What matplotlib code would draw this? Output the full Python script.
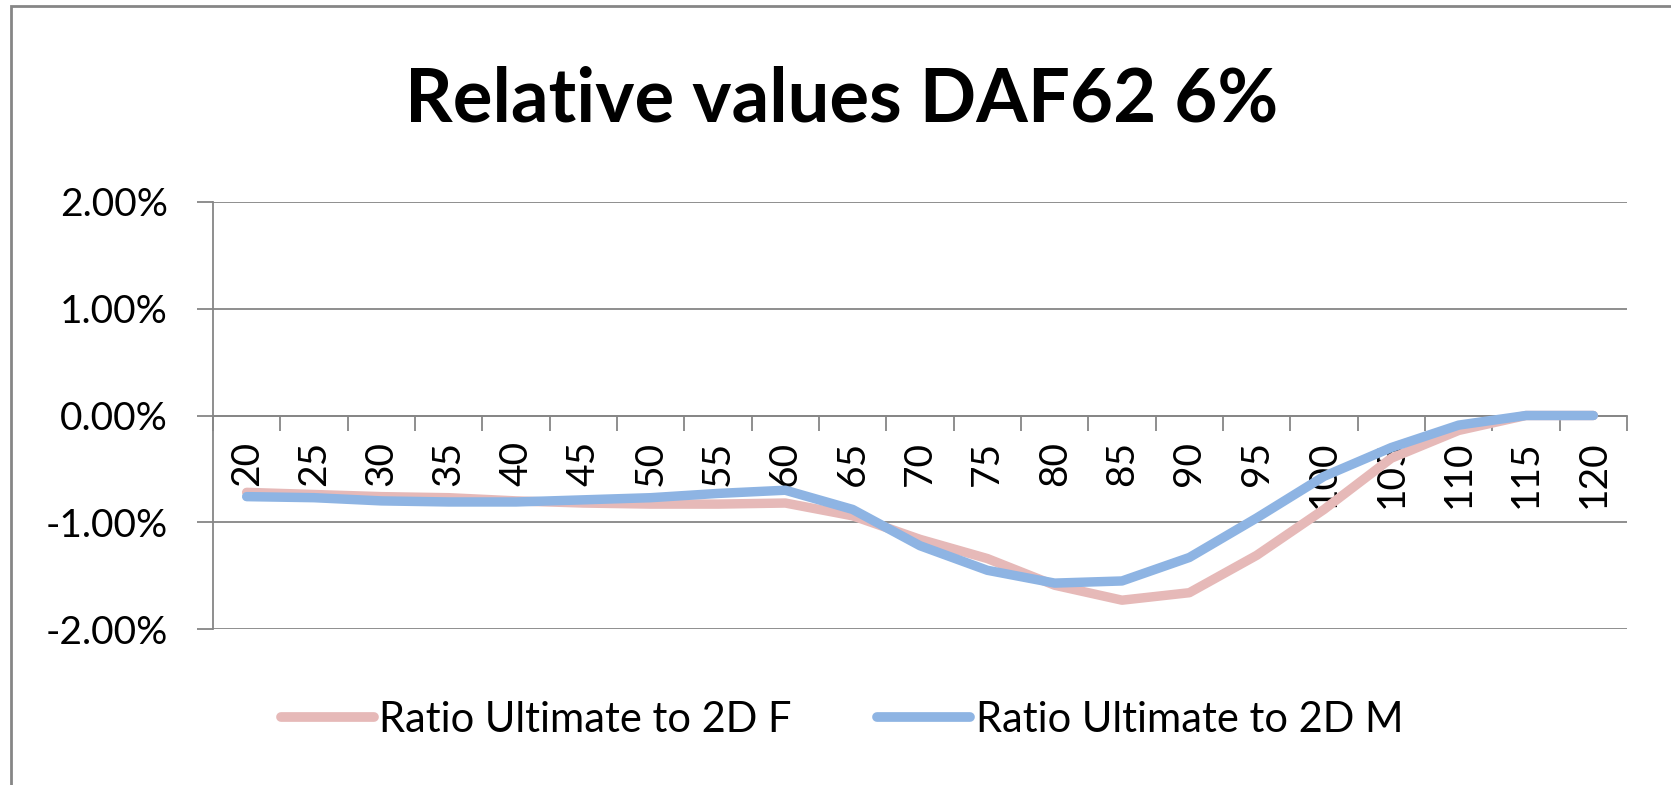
import matplotlib
matplotlib.use("Agg")
import matplotlib.pyplot as plt
from matplotlib.patches import Rectangle
from matplotlib.ticker import FixedLocator, FuncFormatter

categories = [str(v) for v in range(20, 121, 5)]
ratio_f = [-0.72, -0.74, -0.76, -0.77, -0.80, -0.82, -0.83, -0.83, -0.82, -0.94,
           -1.16, -1.34, -1.59, -1.73, -1.66, -1.31, -0.88, -0.40, -0.14, 0.0, 0.0]
ratio_m = [-0.76, -0.77, -0.80, -0.81, -0.81, -0.79, -0.77, -0.73, -0.70, -0.88,
           -1.22, -1.45, -1.57, -1.55, -1.33, -0.96, -0.57, -0.30, -0.09, 0.0, 0.0]
series_names = ["Ratio Ultimate to 2D F", "Ratio Ultimate to 2D M"]
y_ticks = [-2, -1, 0, 1, 2]

FONT = ["Lato", "DejaVu Sans"]
plt.rcParams['font.family'] = FONT
LABEL_SIZE = 28
GRID = "#868686"

W, H = 1671, 785
fig = plt.figure(figsize=(W / 100, H / 100), dpi=100)
fig.patches.append(Rectangle((11 / W, -0.1), 1.2, 1 - 6 / H + 0.1, transform=fig.transFigure,
                             fill=False, edgecolor=GRID, linewidth=2))

ax = fig.add_axes([213 / W, 1 - 629 / H, (1627 - 213) / W, (629 - 202) / H])
x = list(range(len(categories)))
ax.plot(x, ratio_f, color="#E6B9B8", linewidth=6.8, solid_capstyle="round",
        solid_joinstyle="round", label=series_names[0], zorder=3)
ax.plot(x, ratio_m, color="#8EB4E3", linewidth=6.8, solid_capstyle="round",
        solid_joinstyle="round", label=series_names[1], zorder=4)

ax.set_xlim(-0.5, len(categories) - 0.5)
ax.set_ylim(-2, 2)
ax.yaxis.set_major_locator(FixedLocator(y_ticks))
ax.yaxis.set_major_formatter(FuncFormatter(lambda v, p: f"{v:.2f}%".replace("\u2212", "-")))
ax.grid(axis="y", color=GRID, linewidth=1.3)
ax.set_axisbelow(True)
for s in ["top", "right"]:
    ax.spines[s].set_visible(False)
ax.spines["left"].set_color(GRID)
ax.spines["left"].set_linewidth(1.3)
ax.spines["bottom"].set_position(("data", 0))
ax.spines["bottom"].set_color(GRID)
ax.spines["bottom"].set_linewidth(1.3)
ax.tick_params(axis="y", length=11.5, width=1.3, color=GRID, pad=21, labelsize=LABEL_SIZE)
ax.set_xticks(x)
ax.set_xticklabels(categories, rotation=90, fontsize=LABEL_SIZE)
ax.tick_params(axis="x", which="major", length=0, pad=18)
ax.set_xticks([i - 0.5 for i in range(len(categories) + 1)], minor=True)
ax.tick_params(axis="x", which="minor", length=10.5, width=1.3, color=GRID, direction="out")

fig.text(842 / W, 1 - 122 / H, "Relative values DAF62 6%", ha="center", va="baseline",
         fontsize=53.5, fontweight="bold")

leg = fig.legend(loc="center", bbox_to_anchor=(842 / W, 1 - 720 / H), ncol=2, frameon=False,
                 fontsize=30, handlelength=2.23, handletextpad=0.13, columnspacing=2.05)
for h in leg.legend_handles:
    h.set_linewidth(7)

fig.savefig("out.png", dpi=100)
